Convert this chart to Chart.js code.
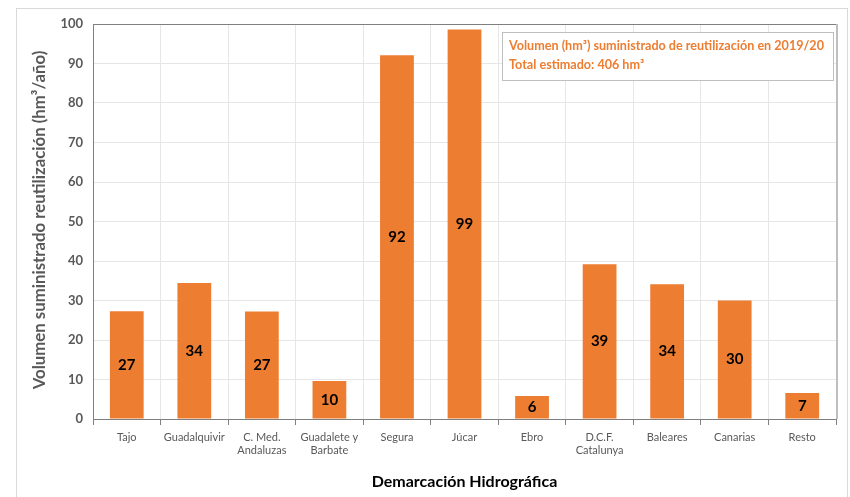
<!DOCTYPE html>
<html><head><meta charset="utf-8">
<script src="https://cdn.jsdelivr.net/npm/chart.js@4/dist/chart.umd.min.js"></script>
<style>html,body{margin:0;padding:0;background:#fff}#wrap{width:850px;height:497px;position:relative}</style>
</head><body><div id="wrap"><canvas id="c" width="850" height="497"></canvas></div>
<script>
const categories = ["Tajo", "Guadalquivir", ["C. Med.", "Andaluzas"], ["Guadalete y", "Barbate"], "Segura", "Júcar", "Ebro", ["D.C.F.", "Catalunya"], "Baleares", "Canarias", "Resto"];
const volumes = [27.3, 34.4, 27.2, 9.6, 92.1, 98.6, 5.8, 39.2, 34.1, 30.0, 6.6];
const yTicks = [0, 10, 20, 30, 40, 50, 60, 70, 80, 90, 100];
const yTitle = "Volumen suministrado reutilización (hm³/año)";
const noteLines = ["Volumen (hm³) suministrado de reutilización en 2019/20", "Total estimado: 406 hm³"];
const FONT = "Lato, 'Open Sans', sans-serif";

const framePlugin = {
  id: 'frame',
  beforeDraw(chart) {
    const ctx = chart.ctx;
    ctx.save();
    ctx.fillStyle = '#fff';
    ctx.fillRect(0, 0, chart.width, chart.height);
    ctx.strokeStyle = '#d9d9d9';
    ctx.lineWidth = 1;
    ctx.strokeRect(16.5, 8.5, 831, 500);
    ctx.restore();
  },
  afterDraw(chart) {
    const ctx = chart.ctx, a = chart.chartArea;
    ctx.save();
    ctx.lineWidth = 1;
    ctx.strokeStyle = '#7f7f7f';
    ctx.beginPath();
    ctx.moveTo(Math.round(a.left) + 0.5, Math.round(a.bottom));
    ctx.lineTo(Math.round(a.left) + 0.5, Math.round(a.top) + 0.5);
    ctx.lineTo(Math.round(a.right) + 0.5, Math.round(a.top) + 0.5);
    ctx.stroke();
    ctx.strokeStyle = '#bfbfbf';
    ctx.lineWidth = 2;
    ctx.beginPath();
    ctx.moveTo(Math.round(a.right) + 1, Math.round(a.top));
    ctx.lineTo(Math.round(a.right) + 1, Math.round(a.bottom));
    ctx.stroke();
    // y axis title
    ctx.save();
    ctx.translate(40, 220);
    ctx.rotate(-Math.PI / 2);
    ctx.fillStyle = '#595959';
    ctx.font = "bold 16.8px " + FONT;
    ctx.textAlign = 'center';
    ctx.textBaseline = 'middle';
    ctx.fillText(yTitle, 0, 0);
    ctx.restore();
    // annotation box
    ctx.lineWidth = 1;
    const bx = 502.5, by = 32.5, bw = 331, bh = 48;
    ctx.fillStyle = '#fff';
    ctx.fillRect(bx, by, bw, bh);
    ctx.strokeStyle = '#bfbfbf';
    ctx.strokeRect(bx, by, bw, bh);
    ctx.fillStyle = '#ED7D31';
    ctx.font = "bold 12.6px " + FONT;
    ctx.textBaseline = 'middle';
    ctx.textAlign = 'left';
    ctx.fillText(noteLines[0], 509, 46);
    ctx.fillText(noteLines[1], 509, 65);
    ctx.restore();
  },
  afterDatasetsDraw(chart) {
    const ctx = chart.ctx;
    const meta = chart.getDatasetMeta(0);
    ctx.save();
    ctx.fillStyle = '#000';
    ctx.font = "bold 15px " + FONT;
    ctx.textAlign = 'center';
    ctx.textBaseline = 'middle';
    meta.data.forEach((bar, i) => {
      const v = chart.data.datasets[0].data[i];
      ctx.fillText(Math.round(v).toString(), bar.x, (bar.y + bar.base) / 2);
    });
    ctx.restore();
  }
};

new Chart(document.getElementById('c'), {
  type: 'bar',
  data: {
    labels: categories,
    datasets: [{
      data: volumes,
      backgroundColor: '#ED7D31',
      borderWidth: 0,
      barPercentage: 0.5,
      categoryPercentage: 1.0
    }]
  },
  plugins: [framePlugin],
  options: {
    responsive: false,
    animation: false,
    layout: { padding: { left: 31, top: 24, right: 14, bottom: 0 } },
    plugins: { legend: { display: false }, tooltip: { enabled: false } },
    scales: {
      x: {
        offset: true,
        grid: { offset: true, color: '#e6e6e6', tickColor: '#7f7f7f', tickLength: 6, drawOnChartArea: true },
        border: { color: '#7f7f7f' },
        ticks: { color: '#595959', font: { family: FONT, size: 11 }, padding: 6, maxRotation: 0, autoSkip: false },
        title: { display: true, text: 'Demarcación Hidrográfica', color: '#000', font: { family: FONT, size: 16, weight: 'bold' }, padding: { top: 3, bottom: 6 } },
        afterFit(s) { s.height = 78; }
      },
      y: {
        min: 0, max: 100,
        afterBuildTicks(s) { s.ticks = yTicks.map(v => ({ value: v })); },
        grid: { color: '#e6e6e6', drawTicks: false },
        border: { color: '#7f7f7f' },
        ticks: { color: '#595959', font: { family: FONT, size: 13, weight: 'bold' }, padding: 10 },
        afterFit(s) { s.width = 62; }
      }
    }
  }
});
</script>
</body></html>
